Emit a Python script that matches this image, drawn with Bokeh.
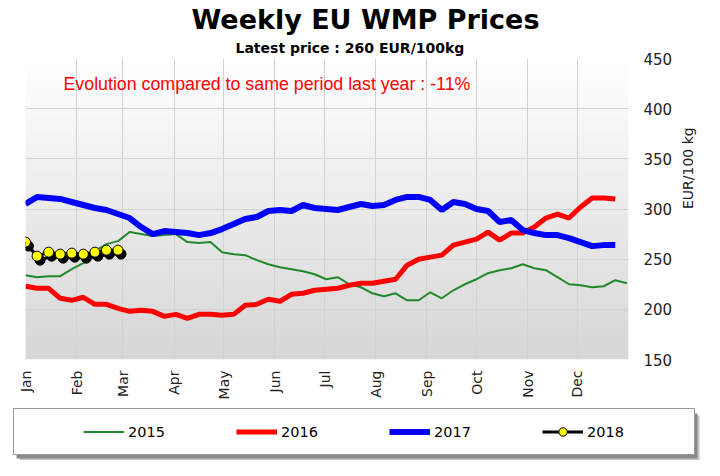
import math
import numpy as np
from bokeh.plotting import figure
from bokeh.models import (Range1d, FixedTicker, Legend, LegendItem, Label, Title,
                          ColumnDataSource, BoxAnnotation)
from bokeh.transform import dodge
from bokeh.embed import file_html
from bokeh.resources import INLINE

# ---------------- data ----------------
months = ["Jan", "Feb", "Mar", "Apr", "May", "Jun",
          "Jul", "Aug", "Sep", "Oct", "Nov", "Dec"]
month_start_days = [0, 31, 59, 90, 120, 151, 181, 212, 243, 273, 304, 334]
y_ticks = [150, 200, 250, 300, 350, 400, 450]

prices_2015 = [234, 232, 233, 233, 240, 246, 258, 265, 268, 277, 275, 273, 274,
               275, 267, 266, 267, 257, 255, 254, 249, 245, 242, 240, 238, 235,
               230, 232, 225, 222, 216, 213, 216, 209, 209, 217, 211, 219, 225,
               230, 236, 239, 241, 245, 241, 239, 232, 225, 224, 222, 223, 229, 226]
prices_2016 = [223, 221, 221, 211, 209, 212, 205, 205, 201, 198, 199, 198, 193,
               195, 191, 195, 195, 194, 195, 204, 205, 210, 208, 215, 216, 219,
               220, 221, 224, 226, 226, 228, 230, 244, 250, 252, 254, 264, 267,
               270, 277, 269, 276, 276, 282, 291, 295, 291, 302, 311, 311, 310]
prices_2017 = [305, 312, 311, 310, 307, 304, 301, 299, 295, 291, 282, 275, 278,
               277, 276, 274, 276, 280, 285, 290, 292, 298, 299, 298, 304, 301,
               300, 299, 302, 305, 303, 304, 309, 312, 312, 309, 299, 307, 305,
               300, 298, 287, 289, 279, 276, 274, 274, 271, 267, 263, 264, 264]
prices_2018 = [267, 253, 257, 255, 256, 255, 257, 259, 259]

series_names = ["2015", "2016", "2017", "2018"]
title_text = "Weekly EU WMP Prices"
subtitle_text = "Latest price : 260 EUR/100kg"
note_text = "Evolution  compared to same period last year : -11%"
y_label = "EUR/100  kg"

COL15, COL16, COL17 = "#22892a", "#ff0000", "#0000ff"


def week_days(values):
    # each weekly value sits at the start day of its week
    return [7 * i for i in range(len(values))]


# ---------------- main figure ----------------
p = figure(frame_width=603, frame_height=301, output_backend="svg", toolbar_location=None,
           title=None, x_range=Range1d(0, 365), y_range=Range1d(150, 450),
           y_axis_location="right",
           min_border_left=25, min_border_right=76,
           min_border_top=58, min_border_bottom=45)
p.background_fill_color = "white"
p.border_fill_color = "white"
p.outline_line_color = None

# vertical gradient background (white at top -> light grey at bottom)
n_bands = 60
edges = np.linspace(150, 450, n_bands + 1)
frac = (0.5 * (edges[:-1] + edges[1:]) - 150) / 300.0
top_rgb = np.array([255, 255, 255])
bot_rgb = np.array([214, 214, 214])
band_colors = ["#%02x%02x%02x" % tuple(int(round(c)) for c in (bot_rgb + (top_rgb - bot_rgb) * f))
               for f in frac]
p.quad(left=0, right=365, bottom=edges[:-1], top=edges[1:] + 0.6,
       fill_color=band_colors, line_color=None, level="image")

# grid
p.xgrid.ticker = FixedTicker(ticks=month_start_days)
p.ygrid.ticker = FixedTicker(ticks=y_ticks)
p.xgrid.grid_line_color = "#d2d2d2"
p.ygrid.grid_line_color = "#d2d2d2"

# x axis
p.xaxis.ticker = FixedTicker(ticks=month_start_days)
p.xaxis.major_label_overrides = {d: m for d, m in zip(month_start_days, months)}
p.xaxis.major_label_orientation = math.pi / 2
p.xaxis.axis_line_color = None
p.xaxis.major_tick_line_color = None
p.xaxis.minor_tick_line_color = None
p.xaxis.major_tick_out = 0
p.xaxis.major_tick_in = 0
p.xaxis.minor_tick_out = 0
p.xaxis.major_label_standoff = 11
p.xaxis.major_label_text_font = "DejaVu Sans"
p.xaxis.major_label_text_font_size = "14px"
p.xaxis.major_label_text_color = "#222222"

# y axis (right)
p.yaxis.ticker = FixedTicker(ticks=y_ticks)
p.yaxis.axis_line_color = None
p.yaxis.major_tick_line_color = None
p.yaxis.minor_tick_line_color = None
p.yaxis.major_tick_out = 0
p.yaxis.major_tick_in = 0
p.yaxis.minor_tick_out = 0
p.yaxis.major_label_standoff = 15
p.yaxis.major_label_text_font = "DejaVu Sans"
p.yaxis.major_label_text_font_size = "15px"
p.yaxis.major_label_text_color = "#222222"
p.yaxis.axis_label = y_label
p.yaxis.axis_label_text_font = "DejaVu Sans"
p.yaxis.axis_label_text_font_size = "14px"
p.yaxis.axis_label_text_font_style = "normal"
p.yaxis.axis_label_text_color = "#222222"
p.yaxis.axis_label_standoff = 13
try:
    p.yaxis.axis_label_orientation = math.pi / 2
except Exception:
    pass

# series
p.line(week_days(prices_2015), prices_2015, line_color=COL15, line_width=2)
p.line(week_days(prices_2016), prices_2016, line_color=COL16, line_width=5)
p.line(week_days(prices_2017), prices_2017, line_color=COL17, line_width=6)

src18 = ColumnDataSource(dict(x=week_days(prices_2018), y=prices_2018))
p.line(x=dodge("x", 1.8), y=dodge("y", -4), source=src18, line_color="black", line_width=3)
p.scatter(x=dodge("x", 1.8), y=dodge("y", -4), source=src18, size=10,
          fill_color="black", line_color="black")
p.line("x", "y", source=src18, line_color="black", line_width=3)
p.scatter("x", "y", source=src18, size=10, fill_color="#ffff00",
          line_color="black", line_width=1)

# red note
p.add_layout(Label(x=23, y=425, text=note_text, text_color="#ff0000",
                   text_font="Liberation Sans", text_font_size="17.8px",
                   text_baseline="middle", text_align="left"))

# titles (subtitle first = closest to the frame)
p.add_layout(Title(text=subtitle_text, align="left", offset=210, standoff=6,
                   text_font="DejaVu Sans", text_font_size="14px",
                   text_font_style="bold", text_color="black"), "above")
p.add_layout(Title(text=title_text, align="left", offset=166, standoff=0,
                   text_font="DejaVu Sans", text_font_size="27px",
                   text_font_style="bold", text_color="black"), "above")

# ---------------- legend strip (separate root, not frame-aligned) ----------------
q = figure(width=704, height=56, output_backend="svg", toolbar_location=None,
           title=None, x_range=Range1d(0, 1), y_range=Range1d(0, 1),
           x_axis_type=None, y_axis_type=None, min_border=0,
           min_border_left=0, min_border_right=0, min_border_top=0, min_border_bottom=0)
q.outline_line_color = None
q.background_fill_color = "white"
q.border_fill_color = "white"
q.xgrid.visible = False
q.ygrid.visible = False

# legend-key glyphs (styles only; their single point is NaN so nothing is drawn)
nan = [float("nan")]
k15 = q.line(x=nan, y=nan, line_color=COL15, line_width=2)
k16 = q.line(x=nan, y=nan, line_color=COL16, line_width=5)
k17 = q.line(x=nan, y=nan, line_color=COL17, line_width=6)
k18l = q.line(x=nan, y=nan, line_color="black", line_width=3)
k18p = q.scatter(x=nan, y=nan, size=9, fill_color="#ffff00", line_color="black")

# drop shadow of the legend box
q.add_layout(BoxAnnotation(left=19, right=699, bottom=0, top=45,
                           left_units="screen", right_units="screen",
                           bottom_units="screen", top_units="screen",
                           fill_color="#c4c4c4", fill_alpha=1, line_color=None))
q.add_layout(BoxAnnotation(left=16, right=697, bottom=2, top=47,
                           left_units="screen", right_units="screen",
                           bottom_units="screen", top_units="screen",
                           fill_color="#8a8a8a", fill_alpha=1, line_color=None))

legend = Legend(items=[LegendItem(label=series_names[0], renderers=[k15]),
                       LegendItem(label=series_names[1], renderers=[k16]),
                       LegendItem(label=series_names[2], renderers=[k17]),
                       LegendItem(label=series_names[3], renderers=[k18l, k18p])],
                orientation="horizontal", location=(13, 5), margin=0,
                title=" ", title_location="left", title_text_font_size="10px",
                title_standoff=46,
                padding=12, spacing=13, glyph_width=41, glyph_height=21,
                label_standoff=4, label_width=95, label_height=21,
                label_text_font="DejaVu Sans", label_text_font_size="14.5px",
                label_text_color="black",
                border_line_color="#333333", border_line_width=1.5,
                background_fill_color="white", background_fill_alpha=1)
q.add_layout(legend)

open("out.html", "w").write(file_html([p, q], INLINE))
